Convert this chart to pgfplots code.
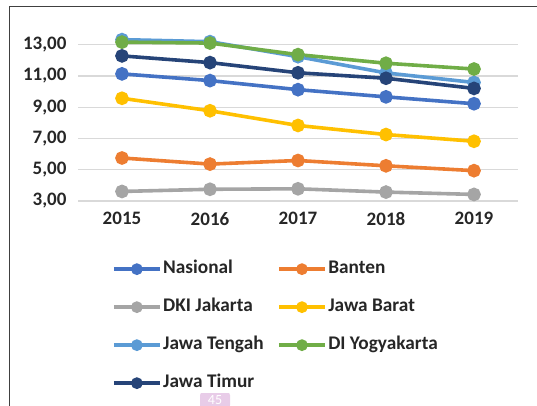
\documentclass[border=0pt]{standalone}
\usepackage{fontspec}
\setmainfont{Carlito}
\usepackage{pgfplots}
\pgfplotsset{compat=1.18}
\definecolor{cNas}{HTML}{4472C4}
\definecolor{cBan}{HTML}{ED7D31}
\definecolor{cDKI}{HTML}{A5A5A5}
\definecolor{cJB}{HTML}{FFC000}
\definecolor{cJT}{HTML}{5B9BD5}
\definecolor{cDIY}{HTML}{70AD47}
\definecolor{cJTim}{HTML}{264478}
\definecolor{txt}{HTML}{262626}
\definecolor{gridc}{HTML}{D9D9D9}
\begin{document}
\begin{tikzpicture}
\useasboundingbox (0pt,0pt) rectangle (537pt,406pt);
\draw[line width=1.6pt, black!75] (9.5pt,0pt) -- (9.5pt,399.5pt) -- (537pt,399.5pt);
\begin{scope}
\clip (195pt,0pt) rectangle (240pt,12pt);
\node[fill={rgb,255:red,232;green,204;blue,232}, rounded corners=3pt, minimum width=30pt, minimum height=16pt, text=white, font=\fontsize{14}{16}\selectfont, anchor=north] at (215pt,14pt) {45};
\end{scope}
\begin{axis}[
  at={(78pt,205pt)}, anchor=south west,
  scale only axis, width=440pt, height=172pt,
  xmin=-0.5, xmax=4.5, ymin=3, ymax=14,
  xtick={0,1,2,3,4}, xticklabels={2015,2016,2017,2018,2019},
  ytick={3,5,7,9,11,13},
  ymajorgrids, grid style={gridc, line width=1.2pt},
  axis line style={draw=none}, major tick length=0pt,
  /pgf/number format/.cd, assume math mode=true, use comma, fixed, fixed zerofill, precision=2,
  /pgfplots/.cd,
  ticklabel style={font=\fontsize{19}{22}\selectfont\bfseries, text=txt},
  yticklabel style={xshift=-8pt},
  xticklabel style={yshift=-8pt},
  every axis plot/.append style={line width=3.6pt, mark=*, mark size=5pt},
  legend columns=2,
  legend image code/.code={\draw[mark repeat=2, mark phase=2, #1, mark size=4pt] plot coordinates {(0pt,0pt) (23pt,0pt) (46pt,0pt)};},
  legend style={at={(axis description cs:0.077,-0.337)}, anchor=north west, draw=none, fill=none, inner sep=0pt,
    font=\fontsize{19.3}{23}\selectfont\bfseries, text=txt,
    nodes={text height=13pt, text depth=4pt, inner sep=1.5pt, anchor=west},
    row sep=18pt,
    /tikz/every odd column/.append style={column sep=0pt},
    /tikz/every even column/.append style={column sep=12pt}},
]
\addplot[cNas, mark options={fill=cNas}] coordinates {(0,11.13) (1,10.70) (2,10.12) (3,9.66) (4,9.22)};
\addlegendentry{Nasional}
\addplot[cBan, mark options={fill=cBan}] coordinates {(0,5.75) (1,5.36) (2,5.59) (3,5.25) (4,4.94)};
\addlegendentry{Banten}
\addplot[cDKI, mark options={fill=cDKI}] coordinates {(0,3.61) (1,3.75) (2,3.78) (3,3.57) (4,3.42)};
\addlegendentry{DKI Jakarta}
\addplot[cJB, mark options={fill=cJB}] coordinates {(0,9.57) (1,8.77) (2,7.83) (3,7.25) (4,6.82)};
\addlegendentry{Jawa Barat}
\addplot[cJT, mark options={fill=cJT}] coordinates {(0,13.32) (1,13.19) (2,12.23) (3,11.19) (4,10.58)};
\addlegendentry{Jawa Tengah}
\addplot[cDIY, mark options={fill=cDIY}] coordinates {(0,13.16) (1,13.10) (2,12.36) (3,11.81) (4,11.44)};
\addlegendentry{DI Yogyakarta}
\addplot[cJTim, mark options={fill=cJTim}] coordinates {(0,12.28) (1,11.85) (2,11.20) (3,10.85) (4,10.20)};
\addlegendentry{Jawa Timur}
\end{axis}
\end{tikzpicture}
\end{document}
